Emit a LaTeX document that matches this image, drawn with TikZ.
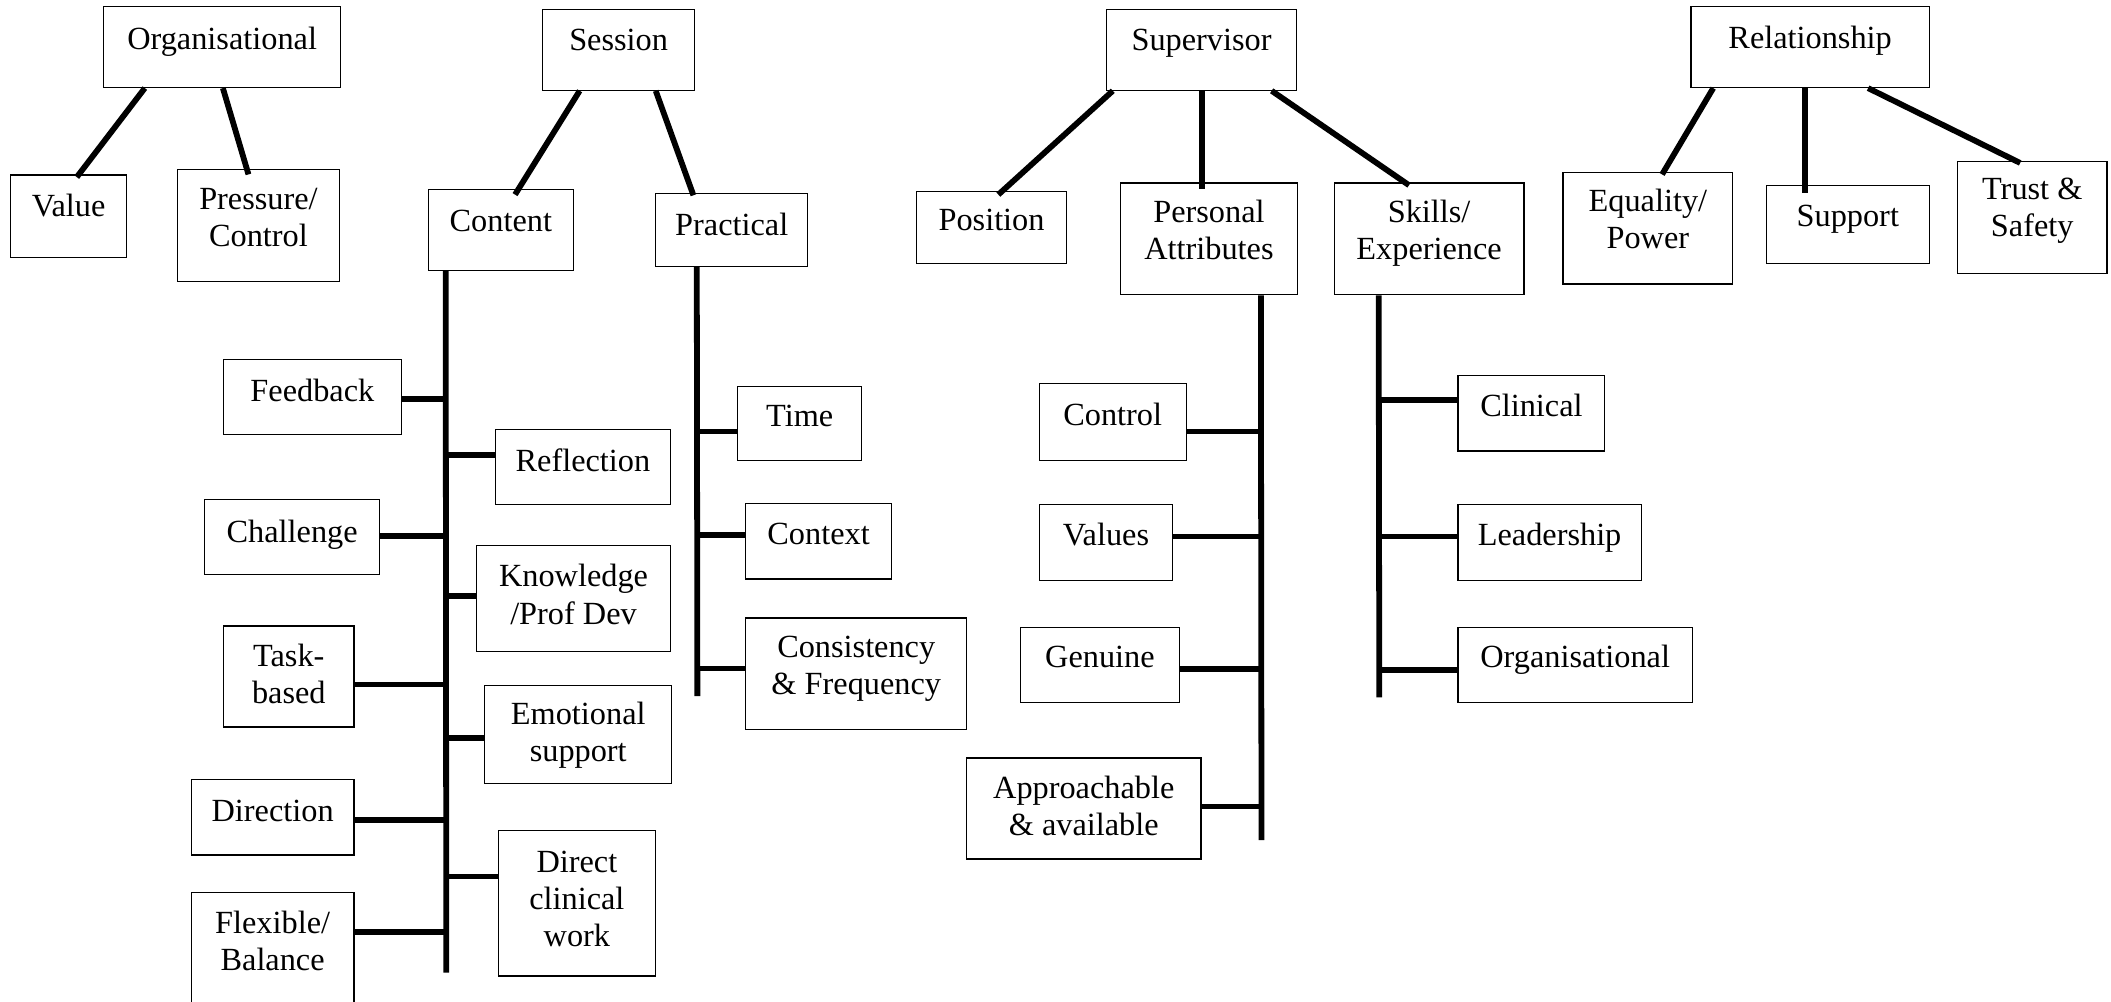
\documentclass[tikz,border=0pt]{standalone}
\usepackage{fontspec}
\setmainfont{Liberation Serif}
\usetikzlibrary{fit}
\tikzset{
  txt/.style={font=\fontsize{24}{27.5}\selectfont, align=center, inner sep=0pt, anchor=base},
  conn/.style={line width=4.3pt},
  boxst/.style={draw, line width=0.9pt, inner sep=0pt}
}
% name, x1, y1, x2, y2, baseline of last line, text
\newcommand{\bx}[7]{%
  \node[boxst, fit={(#2,#3) (#4,#5)}] (#1) {};
  \node[txt] (#1t) at ({(#2+#4)/2},#6) {#7};
}
\begin{document}
\begin{tikzpicture}[x=1pt,y=-1pt]
\useasboundingbox (0,0) rectangle (1568,744);
\fill[white] (0,0) rectangle (1568,744);

% Organisational
\bx{org}{77}{5}{253}{65}{36.5}{Organisational}
\bx{value}{8}{130}{94}{191}{160.5}{Value}
\bx{press}{132}{126}{252}{209}{183}{Pressure/\\Control}
\draw[conn] ([xshift=31pt]org.south west) -- ([xshift=49.5pt,yshift=-2pt]value.north west);
\draw[conn] ([xshift=89pt]org.south west) -- ([xshift=53pt,yshift=-4pt]press.north west);

% Session
\bx{session}{403}{7}{516}{67}{37.5}{Session}
\bx{content}{318}{141}{426}{201}{172}{Content}
\bx{practical}{487}{144}{600}{198}{175}{Practical}
\draw[conn] ([xshift=28pt]session.south west) -- ([xshift=65pt,yshift=-4pt]content.north west);
\draw[conn] ([xshift=84.5pt]session.south west) -- ([xshift=28.5pt,yshift=-1.5pt]practical.north west);

\bx{feedback}{166}{267}{298}{323}{298}{Feedback}
\bx{reflection}{368}{319}{498}{375}{350.5}{Reflection}
\bx{challenge}{152}{371}{282}{427}{403}{Challenge}
\bx{knowledge}{354}{405}{498}{484}{463.5}{Knowledge\\/Prof Dev}
\bx{task}{166}{465}{263}{540}{522.5}{Task-\\based}
\bx{emotional}{360}{509}{499}{582}{565.5}{Emotional\\support}
\bx{direction}{142}{579}{263}{635}{610}{Direction}
\bx{direct}{370}{617}{487}{725}{703}{Direct\\clinical\\work}
\bx{flexible}{142}{663}{263}{762}{720.5}{Flexible/\\Balance}

\coordinate (cbot) at (331.5,722.5);
\draw[conn] ([xshift=13.5pt]content.south west) -- (cbot);
\coordinate (c1) at (331.5,296.5);
\coordinate (c2) at (331.5,338);
\coordinate (c3) at (331.5,398);
\coordinate (c4) at (331.5,442.5);
\coordinate (c5) at (331.5,508.5);
\coordinate (c6) at (331.5,548);
\coordinate (c7) at (331.5,609);
\coordinate (c8) at (331.5,651);
\coordinate (c9) at (331.5,692.5);
\draw[conn] (c1) -- (c1 -| feedback.east);
\draw[conn] (c2) -- (c2 -| reflection.west);
\draw[conn] (c3) -- (c3 -| challenge.east);
\draw[conn] (c4) -- (c4 -| knowledge.west);
\draw[conn] (c5) -- (c5 -| task.east);
\draw[conn] (c6) -- (c6 -| emotional.west);
\draw[conn] (c7) -- (c7 -| direction.east);
\draw[conn] (c8) -- (c8 -| direct.west);
\draw[conn] (c9) -- (c9 -| flexible.east);

\bx{time}{548}{287}{640}{342}{316.5}{Time}
\bx{context}{554}{374}{662}{430}{404.5}{Context}
\bx{consistency}{554}{459}{718}{542}{515.5}{Consistency\\\& Frequency}
\coordinate (pbot) at (518,517);
\draw[conn] ([xshift=31pt]practical.south west) -- (pbot);
\coordinate (p1) at (518,320.5);
\coordinate (p2) at (518,397.5);
\coordinate (p3) at (518,496.5);
\draw[conn] (p1) -- (p1 -| time.west);
\draw[conn] (p2) -- (p2 -| context.west);
\draw[conn] (p3) -- (p3 -| consistency.west);

% Supervisor
\bx{supervisor}{822}{7}{963}{67}{37.5}{Supervisor}
\bx{position}{681}{142}{792}{196}{171}{Position}
\bx{personal}{832}{136}{964}{219}{192.5}{Personal\\Attributes}
\bx{skills}{991}{136}{1132}{219}{192.5}{Skills/\\Experience}
\draw[conn] ([xshift=5pt]supervisor.south west) -- ([xshift=61pt,yshift=-3pt]position.north west);
\draw[conn] ([xshift=71.5pt]supervisor.south west) -- ([xshift=61.5pt,yshift=-5pt]personal.north west);
\draw[conn] ([xshift=123pt]supervisor.south west) -- ([xshift=56pt,yshift=-2pt]skills.north west);

\bx{control}{772}{285}{881}{342}{316}{Control}
\bx{values}{772}{375}{871}{431}{405}{Values}
\bx{genuine}{758}{466}{876}{522}{496}{Genuine}
\bx{approach}{718}{563}{892}{638}{620.5}{Approachable\\\& available}
\coordinate (abot) at (937,624);
\draw[conn] ([xshift=105pt]personal.south west) -- (abot);
\coordinate (a1) at (937,320.5);
\coordinate (a2) at (937,398.5);
\coordinate (a3) at (937,497);
\coordinate (a4) at (937,599);
\draw[conn] (a1) -- (a1 -| control.east);
\draw[conn] (a2) -- (a2 -| values.east);
\draw[conn] (a3) -- (a3 -| genuine.east);
\draw[conn] (a4) -- (a4 -| approach.east);

\bx{clinical}{1083}{279}{1192}{335}{309}{Clinical}
\bx{leadership}{1083}{375}{1219}{431}{405}{Leadership}
\bx{orgskill}{1083}{466}{1257}{522}{496}{Organisational}
\coordinate (sbot) at (1024.5,518);
\draw[conn] ([xshift=33.5pt]skills.south west) -- (sbot);
\coordinate (s1) at (1024.5,297);
\coordinate (s2) at (1024.5,398.5);
\coordinate (s3) at (1024.5,497.5);
\draw[conn] (s1) -- (s1 -| clinical.west);
\draw[conn] (s2) -- (s2 -| leadership.west);
\draw[conn] (s3) -- (s3 -| orgskill.west);

% Relationship
\bx{relationship}{1256}{5}{1433}{65}{36}{Relationship}
\bx{equality}{1161}{128}{1287}{211}{184.5}{Equality/\\Power}
\bx{support}{1312}{138}{1433}{196}{168.5}{Support}
\bx{trust}{1454}{120}{1565}{203}{176}{Trust \&\\Safety}
\draw[conn] ([xshift=17pt]relationship.south west) -- ([xshift=74pt,yshift=-2pt]equality.north west);
\draw[conn] ([xshift=85pt]relationship.south west) -- ([xshift=29pt,yshift=-6pt]support.north west);
\draw[conn] ([xshift=132pt]relationship.south west) -- ([xshift=47pt,yshift=-1.5pt]trust.north west);
\end{tikzpicture}
\end{document}
